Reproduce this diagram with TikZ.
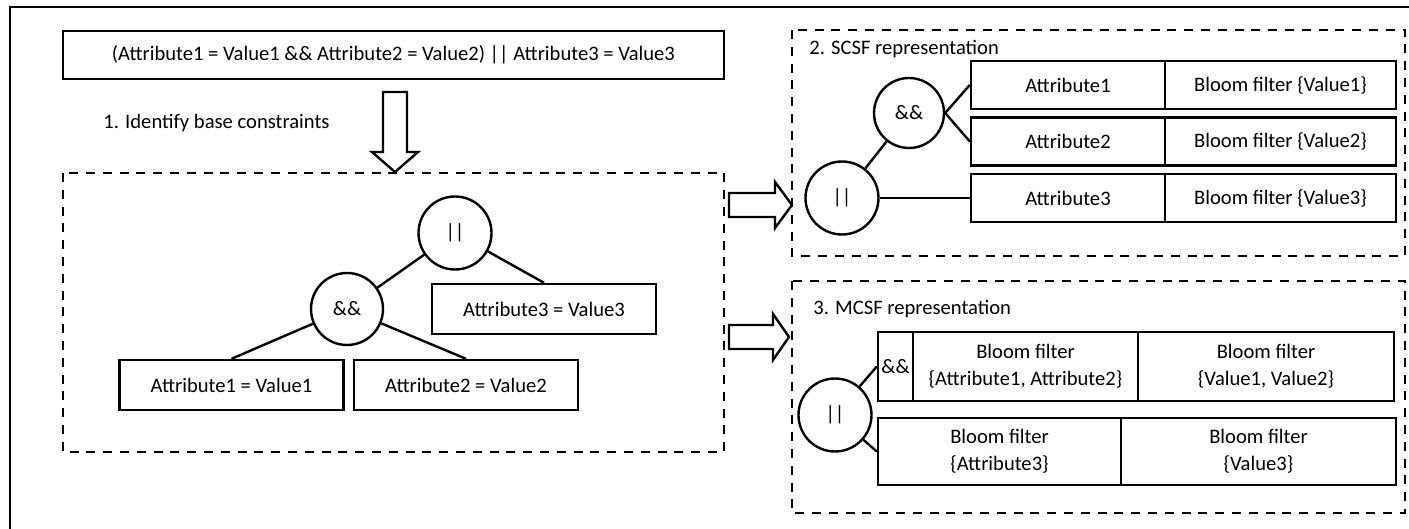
\documentclass[tikz,border=0pt]{standalone}
\usepackage{fontspec}
\setmainfont{Carlito}
\tikzset{
  box/.style={draw, line width=1.2pt, inner sep=0pt, align=center},
  op/.style={draw, circle, line width=1.2pt, inner sep=0pt, minimum size=36.5pt},
  group/.style={draw, line width=1.2pt, dash pattern=on 4.5pt off 3.9pt},
  bigarrow/.style={draw, line width=1.2pt, line join=miter},
  caption/.style={anchor=west, inner sep=0pt},
}
\begin{document}
\begin{tikzpicture}[x=0.5pt, y=-0.5pt, font=\fontsize{10.3}{13.5}\selectfont]
  \useasboundingbox (0,0) rectangle (1409,529);
  \draw[line width=1.2pt] (10,529) -- (10,7) -- (1409,7);

  % query and first step
  \draw
    (393.5,55) node[box, minimum width=330.5pt, minimum height=24pt] (query)
      {(Attribute1 = Value1 \&\& Attribute2 = Value2) || Attribute3 = Value3}
    (103,123) node[caption] (step1) {1. Identify base constraints};
  \draw[bigarrow] (383,92) -- (407,92) -- (407,152) -- (418,152) -- (395,172)
    -- (372,152) -- (383,152) -- cycle;

  % base constraint tree
  \draw[group] (63,173) rectangle (724,452);
  \draw
    (455,233) node[op] (or) {||}
    (347,309) node[op, minimum size=36pt] (and) {\&\&}
    (544,309) node[box, minimum width=112pt, minimum height=25pt] (c3) {Attribute3 = Value3}
    (231.5,385) node[box, minimum width=112pt, minimum height=25pt] (c1) {Attribute1 = Value1}
    (466,385) node[box, minimum width=112pt, minimum height=25pt] (c2) {Attribute2 = Value2};
  \begin{scope}[line width=1.2pt]
    \draw (or) to (and);
    \draw (or) to (c3.north);
    \draw (and) to (c1.north);
    \draw (and) to (c2.north);
  \end{scope}

  \draw[bigarrow] (729,193) -- (775,193) -- (775,182) -- (792,205) -- (775,228)
    -- (775,217) -- (729,217) -- cycle;
  \draw[bigarrow] (729,325) -- (773,325) -- (773,314) -- (789,337) -- (773,360)
    -- (773,349) -- (729,349) -- cycle;

  % SCSF
  \draw[group] (792,30) rectangle (1405,256);
  \draw
    (809,49) node[caption] (scsf) {2. SCSF representation}
    (842,198) node[op] (sor) {||}
    (909,113) node[op, minimum size=35pt] (sand) {\&\&}
    (1068,85) node[box, minimum width=97pt, minimum height=24pt] (sa1) {Attribute1}
    (1280.5,85) node[box, minimum width=115.5pt, minimum height=24pt] (sb1) {Bloom filter \{Value1\}}
    (1068,141.5) node[box, minimum width=97pt, minimum height=24pt] (sa2) {Attribute2}
    (1280.5,141.5) node[box, minimum width=115.5pt, minimum height=24pt] (sb2) {Bloom filter \{Value2\}}
    (1068,198) node[box, minimum width=97pt, minimum height=24pt] (sa3) {Attribute3}
    (1280.5,198) node[box, minimum width=115.5pt, minimum height=24pt] (sb3) {Bloom filter \{Value3\}};
  \begin{scope}[line width=1.2pt]
    \draw (sor) to (sand);
    \draw (sand.east) to (sa1.west);
    \draw (sand.east) to (sa2.west);
    \draw (sor.east) to (sa3.west);
  \end{scope}

  % MCSF
  \draw[group] (792,281) rectangle (1405,513);
  \draw
    (813,309) node[caption] (mcsf) {3. MCSF representation}
    (835,415) node[op] (mor) {||}
    (895.5,366.5) node[box, minimum width=17.5pt, minimum height=34.5pt] (mand) {\&\&}
    (1025.5,366.5) node[box, minimum width=112.5pt, minimum height=34.5pt] (mb1)
      {Bloom filter\\\{Attribute1, Attribute2\}}
    (1266,366.5) node[box, minimum width=128pt, minimum height=34.5pt] (mv1)
      {Bloom filter\\\{Value1, Value2\}}
    (999.5,451.5) node[box, minimum width=121.5pt, minimum height=33.5pt] (mb2)
      {Bloom filter\\\{Attribute3\}}
    (1258.5,451.5) node[box, minimum width=137.5pt, minimum height=33.5pt] (mv2)
      {Bloom filter\\\{Value3\}};
  \begin{scope}[line width=1.2pt]
    \draw (mor) to (mand.west);
    \draw (mor) to (mb2.west);
  \end{scope}
\end{tikzpicture}
\end{document}
